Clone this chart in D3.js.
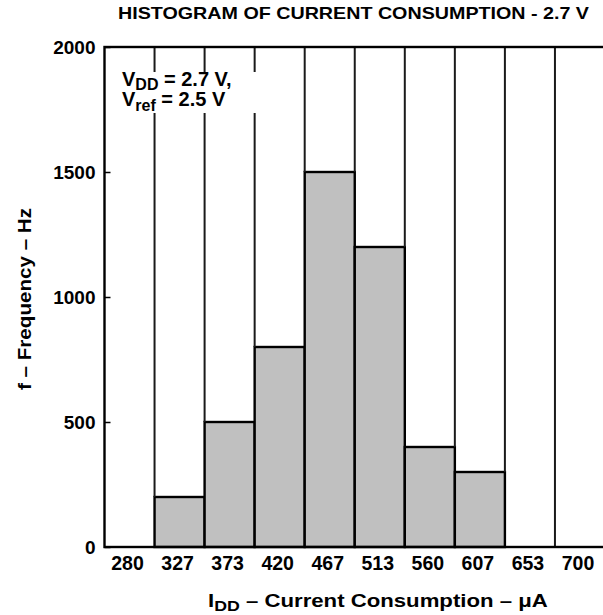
<!DOCTYPE html>
<html><head><meta charset="utf-8">
<script src="https://cdn.jsdelivr.net/npm/d3@7"></script>
<style>
body{margin:0;background:#fff;}
text{font-family:"Liberation Sans",Arial,Helvetica,sans-serif;font-weight:bold;fill:#000;}
</style></head>
<body><svg id="c" width="603" height="615"></svg>
<script>
const categories = ["280","327","373","420","467","513","560","607","653","700"];
const frequencies = [0,200,500,800,1500,1200,400,300,0,0];
const yTicks = [0,500,1000,1500,2000];

const svg = d3.select("#c");
const L=104.5, R=605, T=47, B=547;
const x = d3.scaleBand().domain(categories).range([L,R]).padding(0);
const y = d3.scaleLinear().domain([0,2000]).range([B,T]);

// bars
svg.append("g").selectAll("rect").data(categories).join("rect")
  .attr("x",d=>x(d)).attr("width",x.bandwidth())
  .attr("y",(d,i)=>y(frequencies[i])).attr("height",(d,i)=>B-y(frequencies[i]))
  .attr("fill",(d,i)=>frequencies[i]>0?"#c0c0c0":"none")
  .attr("stroke",(d,i)=>frequencies[i]>0?"#000":"none").attr("stroke-width",2.4);

// vertical grid lines above bars
const grid = svg.append("g");
categories.slice(1).forEach((c,i)=>{
  const gx = x(c);
  const top = Math.max(frequencies[i], frequencies[i+1]);
  grid.append("line").attr("x1",gx).attr("x2",gx).attr("y1",T).attr("y2",y(top))
    .attr("stroke","#1a1a1a").attr("stroke-width",2);
});

// annotation box
svg.append("rect").attr("x",110).attr("y",72).attr("width",150).attr("height",41).attr("fill","#fff");
const ann = svg.append("text").attr("x",122).attr("y",86).attr("font-size",20);
ann.append("tspan").text("V");
ann.append("tspan").attr("font-size",16).attr("dy",4).text("DD");
ann.append("tspan").attr("dy",-4).text(" = 2.7 V,");
const ann2 = svg.append("text").attr("x",122).attr("y",106).attr("font-size",20);
ann2.append("tspan").text("V");
ann2.append("tspan").attr("font-size",16).attr("dy",5).text("ref");
ann2.append("tspan").attr("dy",-5).text(" = 2.5 V");

// frame
svg.append("rect").attr("x",L).attr("y",T).attr("width",R-L).attr("height",B-T)
  .attr("fill","none").attr("stroke","#000").attr("stroke-width",2.4);

// y axis
const yAxis = d3.axisLeft(y).tickValues(yTicks).tickSize(-6).tickPadding(9).tickFormat(d3.format("d"));
const ya = svg.append("g").attr("transform",`translate(${L},0)`).call(yAxis);
ya.select(".domain").remove();
ya.selectAll("line").attr("stroke","#000").attr("stroke-width",1.5);
ya.selectAll("text").attr("font-size",19).attr("font-family","Liberation Sans, Arial").attr("font-weight","bold");

// x axis
const xAxis = d3.axisBottom(x).tickSize(0).tickPadding(9);
const xa = svg.append("g").attr("transform",`translate(-2,${B})`).call(xAxis);
xa.select(".domain").remove();
xa.selectAll("text").attr("font-size",19.5).attr("font-family","Liberation Sans, Arial").attr("font-weight","bold");

// title
svg.append("text").attr("x",118).attr("y",19).attr("font-size",16.5)
  .attr("textLength",471).attr("lengthAdjust","spacingAndGlyphs")
  .text("HISTOGRAM OF CURRENT CONSUMPTION - 2.7 V");

// x label
const xl = svg.append("text").attr("x",208).attr("y",607).attr("font-size",17.5);
xl.append("tspan").text("I");
xl.append("tspan").attr("font-size",14).attr("dy",4).text("DD");
xl.append("tspan").attr("dy",-4).text(" – Current Consumption – μA");
(function(){ const w = xl.node().getComputedTextLength(); xl.attr("transform",`translate(208,0) scale(${340/w},1) translate(-208,0)`); })();

// y label
svg.append("text").attr("transform","translate(31,299) rotate(-90)").attr("text-anchor","middle").attr("font-size",17.5)
  .attr("textLength",182).attr("lengthAdjust","spacingAndGlyphs")
  .text("f – Frequency – Hz");
</script></body></html>
